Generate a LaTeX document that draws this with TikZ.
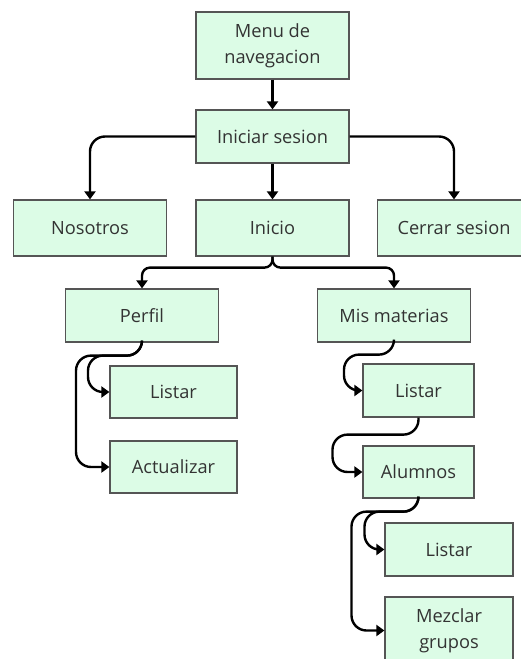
\documentclass[tikz,border=0pt]{standalone}
\usepackage{fontspec}
\setmainfont{Open Sans}
\usetikzlibrary{arrows.meta}
\definecolor{boxfill}{HTML}{DCFCE6}
\definecolor{boxline}{HTML}{555555}
\definecolor{boxtext}{HTML}{333333}
\begin{document}
\begin{tikzpicture}[x=1bp,y=-1bp,
  box/.style={draw=boxline,line width=1.2bp,fill=boxfill,text=boxtext,
    minimum width=153bp,minimum height=53bp,align=center,inner sep=2bp,
    font=\fontsize{18.3}{26}\selectfont},
  tallbox/.style={box,minimum height=67bp},
  conn/.style={line width=2.4bp,draw=black,rounded corners=15bp,
    -{Triangle[length=8bp,width=11bp]}},
  short/.style={conn,rounded corners=8bp}]
\useasboundingbox (0,0) rectangle (521,659);

% top level
\node[tallbox] (menu) at (272.5,45.5) {Menu de\\navegacion};
\node[box] (ini) at (272.5,136.5) {Iniciar sesion};
\node[box,minimum height=56bp] (nos) at (90,228) {Nosotros};
\node[box,minimum height=56bp] (inicio) at (272.5,228) {Inicio};
\node[box,minimum height=56bp] (cer) at (454,228) {Cerrar sesion};

% second level
\node[box] (perfil) at (142,315.5) {Perfil};
\node[box] (mis) at (394,315.5) {Mis materias};

% Perfil children
\node[box,minimum width=127bp,minimum height=52bp] (listL) at (173.5,392) {Listar};
\node[box,minimum width=127bp,minimum height=52bp] (act) at (173.5,467) {Actualizar};

% Mis materias children
\node[box,minimum width=111bp] (listR) at (418.5,390.5) {Listar};
\node[box,minimum width=111bp,minimum height=52bp] (alum) at (418.5,472) {Alumnos};
\node[box,minimum width=128bp] (listB) at (449,549.5) {Listar};
\node[tallbox,minimum width=128bp] (mez) at (449,630.5) {Mezclar\\grupos};

% connectors
\draw[conn] (menu) -- (ini);
\draw[conn] (ini.west) -| (nos.north);
\draw[conn] (ini) -- (inicio);
\draw[conn] (ini.east) -| (cer.north);

\draw[short] (inicio.south) -- ++(0,11) -| (perfil.north);
\draw[short] (inicio.south) -- ++(0,11) -| (mis.north);

\draw[conn] (perfil.south) -- ++(0,13) -- ++(-54,0) |- (listL.west);
\draw[conn] (perfil.south) -- ++(0,13) -- ++(-66,0) |- (act.west);

\draw[conn] (mis.south) -- ++(0,12) -- ++(-50,0) |- (listR.west);
\draw[conn] (listR.south) -- ++(0,17) -- ++(-86,0) |- (alum.west);

\draw[conn] (alum.south) -- ++(0,13) -- ++(-54,0) |- (listB.west);
\draw[conn] (alum.south) -- ++(0,13) -- ++(-67,0) |- (mez.west);
\end{tikzpicture}
\end{document}
